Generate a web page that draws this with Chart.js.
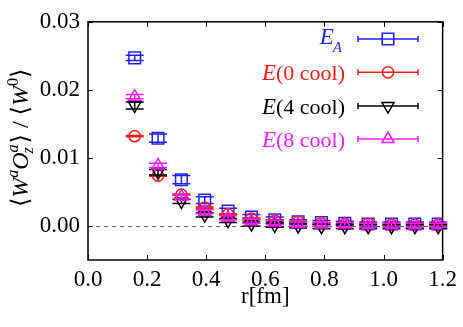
<!DOCTYPE html>
<html><head><meta charset="utf-8">
<script src="https://cdn.jsdelivr.net/npm/chart.js@4"></script>
<style>html,body{margin:0;padding:0;background:#fff}#wrap{width:463px;height:327px}</style>
</head><body><div id="wrap"><canvas id="c" width="463" height="327"></canvas></div>
<script>
const rValues = [0.158,0.237,0.316,0.395,0.474,0.553,0.632,0.711,0.790,0.869,0.948,1.027,1.106,1.185];
const eA    = [0.0247,0.0129,0.0068,0.0038,0.0022,0.0013,0.0009,0.0006,0.0005,0.0004,0.0003,0.0003,0.0003,0.0003];
const eAErr = [0.0004,0.0006,0.0006,0.0005,0.0004,0.0004,0.0004,0.0003,0.0003,0.0003,0.0003,0.0003,0.0003,0.0003];
const e0    = [0.0132,0.0074,0.0046,0.0027,0.0017,0.0011,0.0008,0.0006,0.0004,0.0003,0.0003,0.0002,0.0002,0.0002];
const e0Err = [0.0001,0.0001,0.0001,0.0001,0.0001,0.0001,0.0001,0.0001,0.0001,0.0001,0.0001,0.0001,0.0001,0.0001];
const e4    = [0.0177,0.0079,0.0036,0.0016,0.0008,0.0003,0.0001,0.0000,-0.0001,-0.0001,-0.0001,-0.0001,-0.0001,-0.0001];
const e4Err = [0.0005,0.0004,0.0003,0.0003,0.0003,0.0003,0.0003,0.0003,0.0003,0.0003,0.0003,0.0003,0.0003,0.0003];
const e8    = [0.0190,0.0089,0.0043,0.0021,0.0012,0.0007,0.0005,0.0003,0.0002,0.0002,0.0001,0.0001,0.0001,0.0001];
const e8Err = [0.0003,0.0003,0.0003,0.0003,0.0003,0.0003,0.0003,0.0003,0.0003,0.0003,0.0003,0.0003,0.0003,0.0003];
const xTicks = [0.0,0.2,0.4,0.6,0.8,1.0,1.2];
const yTicks = [0.00,0.01,0.02,0.03];

const SERIF = '"Liberation Serif","DejaVu Serif",serif';
const series = [
  {key:'EA', label:['E','A',''], vals:eA, errs:eAErr, color:'#1f1fff', style:'rect', rot:0, radius:8.2, order:3},
  {key:'E0', label:['E','','(0 cool)'], vals:e0, errs:e0Err, color:'#ff1a1a', style:'circle', rot:0, radius:5.6, order:2},
  {key:'E4', label:['E','','(4 cool)'], vals:e4, errs:e4Err, color:'#000000', style:'triangle', rot:180, radius:7, order:1},
  {key:'E8', label:['E','','(8 cool)'], vals:e8, errs:e8Err, color:'#ff1aff', style:'triangle', rot:0, radius:7, order:0}
];

const datasets = series.map(s => ({
  label: s.key,
  data: rValues.map((x,i)=>({x:x, y:s.vals[i]})),
  errs: s.errs,
  borderColor: s.color,
  backgroundColor: 'rgba(0,0,0,0)',
  pointStyle: s.style,
  rotation: s.rot,
  pointRadius: s.radius,
  pointHoverRadius: s.radius,
  pointBorderWidth: 1.5,
  showLine: false,
  order: s.order
}));

function drawMarker(ctx, style, rot, r, x, y, color){
  ctx.save();
  ctx.strokeStyle = color; ctx.lineWidth = 1.5;
  ctx.beginPath();
  if (style === 'rect') {
    const s = Math.SQRT1_2 * r;
    ctx.rect(x - s, y - s, 2*s, 2*s);
  } else if (style === 'circle') {
    ctx.arc(x, y, r, 0, Math.PI*2);
  } else {
    let rad = rot * Math.PI/180;
    for (let k=0;k<3;k++){
      const px = x + Math.sin(rad)*r, py = y - Math.cos(rad)*r;
      if(k===0) ctx.moveTo(px,py); else ctx.lineTo(px,py);
      rad += 2*Math.PI/3;
    }
    ctx.closePath();
  }
  ctx.stroke();
  ctx.restore();
}

const framePlugin = {
  id: 'frame',
  beforeDatasetsDraw(chart){
    const {ctx, chartArea:a, scales:{x,y}} = chart;
    ctx.save();
    ctx.strokeStyle = '#555'; ctx.lineWidth = 1; ctx.setLineDash([4,4]);
    const y0 = Math.round(y.getPixelForValue(0)) + 0.5;
    ctx.beginPath(); ctx.moveTo(a.left, y0); ctx.lineTo(a.right, y0); ctx.stroke();
    ctx.setLineDash([]);
    ctx.strokeStyle = '#000'; ctx.lineWidth = 1.5;
    ctx.strokeRect(a.left, a.top, a.right - a.left, a.bottom - a.top);
    ctx.lineWidth = 1;
    const L = 5;
    xTicks.forEach(v => {
      const px = Math.round(x.getPixelForValue(v)) + 0.5;
      ctx.beginPath();
      ctx.moveTo(px, a.bottom); ctx.lineTo(px, a.bottom - L);
      ctx.moveTo(px, a.top); ctx.lineTo(px, a.top + L);
      ctx.stroke();
    });
    yTicks.forEach(v => {
      const py = Math.round(y.getPixelForValue(v)) + 0.5;
      ctx.beginPath();
      ctx.moveTo(a.left, py); ctx.lineTo(a.left + L, py);
      ctx.moveTo(a.right, py); ctx.lineTo(a.right - L, py);
      ctx.stroke();
    });
    ctx.restore();
  },
  afterDatasetDraw(chart, args){
    const ds = chart.data.datasets[args.index];
    const meta = args.meta;
    const {ctx, scales:{y}} = chart;
    ctx.save();
    ctx.strokeStyle = ds.borderColor; ctx.lineWidth = 1.5;
    meta.data.forEach((pt, i) => {
      const v = ds.data[i].y, e = ds.errs[i];
      const yt = y.getPixelForValue(v + e), yb = y.getPixelForValue(v - e);
      const cx = pt.x, w = 9;
      ctx.beginPath();
      ctx.moveTo(cx, yt); ctx.lineTo(cx, yb);
      ctx.moveTo(cx - w, yt); ctx.lineTo(cx + w, yt);
      ctx.moveTo(cx - w, yb); ctx.lineTo(cx + w, yb);
      ctx.stroke();
    });
    ctx.restore();
  },
  afterDraw(chart){
    const ctx = chart.ctx;
    ctx.save();
    const rowsY = [39, 72.3, 106, 139];
    const textRight = 345, l1 = 358, l2 = 418, mx = 388;
    series.forEach((s, i) => {
      const yy = rowsY[i];
      ctx.strokeStyle = s.color; ctx.lineWidth = 1.5;
      ctx.beginPath();
      ctx.moveTo(l1, yy); ctx.lineTo(l2, yy);
      ctx.moveTo(l1, yy - 3); ctx.lineTo(l1, yy + 3);
      ctx.moveTo(l2, yy - 3); ctx.lineTo(l2, yy + 3);
      ctx.stroke();
      drawMarker(ctx, s.style, s.rot, s.radius, mx, yy, s.color);
      ctx.fillStyle = s.color;
      ctx.textBaseline = 'alphabetic';
      ctx.textAlign = 'left';
      const fMain = '22px ' + SERIF, fIt = 'italic 23px ' + SERIF, fSub = 'italic 15px ' + SERIF;
      const base = yy + 8;
      if (s.label[1]) {
        ctx.font = fIt; const wE = ctx.measureText('E').width;
        ctx.font = fSub; const wA = ctx.measureText(s.label[1]).width;
        const x0 = textRight - 3 - wE - wA + 1;
        ctx.font = fIt; ctx.fillText('E', x0, base - 3);
        ctx.font = fSub; ctx.fillText(s.label[1], x0 + wE - 1, base + 5);
      } else {
        ctx.font = fIt; const wE = ctx.measureText('E').width;
        ctx.font = fMain; const wR = ctx.measureText(s.label[2]).width;
        const x0 = textRight - wR - wE;
        ctx.font = fIt; ctx.fillText('E', x0, base);
        ctx.font = fMain; ctx.fillText(s.label[2], x0 + wE, base);
      }
    });
    const segs = [
      {t:'\u27E8', f:'24px ' + SERIF, dy:0},
      {t:'W', f:'italic 24px ' + SERIF, dy:0},
      {t:'a', f:'italic 16px ' + SERIF, dy:-10},
      {t:'O', f:'italic 24px ' + SERIF, dy:0, stack:{sup:'a', sub:'z'}},
      {t:'\u27E9', f:'24px ' + SERIF, dy:0},
      {t:' / ', f:'24px ' + SERIF, dy:0},
      {t:'\u27E8', f:'24px ' + SERIF, dy:0},
      {t:'W', f:'italic 24px ' + SERIF, dy:0},
      {t:'0', f:'16px ' + SERIF, dy:-10},
      {t:'\u27E9', f:'24px ' + SERIF, dy:0}
    ];
    let total = 0;
    segs.forEach(sg => {
      ctx.font = sg.f; sg.w = ctx.measureText(sg.t).width;
      if (sg.stack) { ctx.font = 'italic 16px ' + SERIF; sg.w += Math.max(ctx.measureText('a').width, ctx.measureText('z').width) + 1; }
      total += sg.w;
    });
    ctx.translate(28, (chart.chartArea.top + chart.chartArea.bottom)/2 - 3);
    ctx.rotate(-Math.PI/2);
    ctx.fillStyle = '#000';
    let cx = -total/2;
    segs.forEach(sg => {
      ctx.font = sg.f;
      ctx.fillText(sg.t, cx, sg.dy);
      if (sg.stack) {
        const wO = ctx.measureText(sg.t).width;
        ctx.font = 'italic 16px ' + SERIF;
        ctx.fillText(sg.stack.sup, cx + wO, -10);
        ctx.fillText(sg.stack.sub, cx + wO - 1, 5);
      }
      cx += sg.w;
    });
    ctx.restore();
  }
};

new Chart(document.getElementById('c'), {
  type: 'scatter',
  data: { datasets },
  plugins: [framePlugin],
  options: {
    responsive: false,
    animation: false,
    events: [],
    layout: { padding: { top: 17, right: 16, left: 0, bottom: 0 } },
    plugins: { legend: { display: false }, tooltip: { enabled: false } },
    scales: {
      x: {
        type: 'linear', min: 0, max: 1.2,
        afterBuildTicks: s => { s.ticks = xTicks.map(v => ({value: v})); },
        afterFit: s => { s.height = 67; },
        grid: { display: false, drawTicks: false },
        border: { display: false },
        ticks: { color: '#000', padding: 6, maxRotation: 0, autoSkip: false,
                 font: { family: SERIF, size: 23 },
                 callback: v => Number(v).toFixed(1) },
        title: { display: true, text: 'r[fm]', color: '#000',
                 font: { family: SERIF, size: 23 }, padding: { top: 0, bottom: 16 } }
      },
      y: {
        type: 'linear', min: -0.005, max: 0.03,
        afterBuildTicks: s => { s.ticks = yTicks.map(v => ({value: v})); },
        afterFit: s => { s.width = 88; },
        grid: { display: false, drawTicks: false },
        border: { display: false },
        ticks: { color: '#000', padding: 8, autoSkip: false,
                 font: { family: SERIF, size: 23 },
                 callback: v => Number(v).toFixed(2) }
      }
    }
  }
});
</script></body></html>
